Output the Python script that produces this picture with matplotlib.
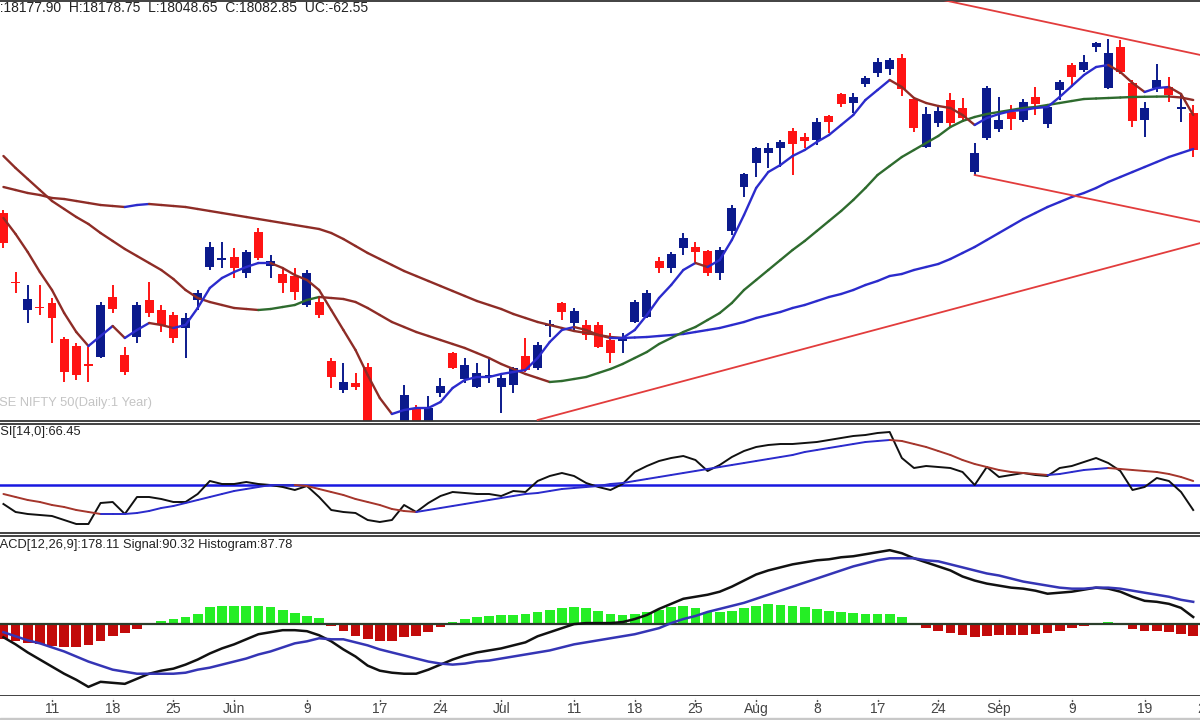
import numpy as np
import matplotlib.pyplot as plt
from matplotlib.collections import LineCollection
from matplotlib.patches import Rectangle

plt.rcParams['font.family'] = ['Liberation Sans', 'DejaVu Sans']

# trading-day number of every bar, 0 = 11 May 2022 (bars run 5 May .. 23 Sep)
days = np.arange(-4, 95)

opens = [16470, 15780, 15500, 15530, 15570, 15210, 15140, 14960, 15030, 15630,
         15050, 15230, 15600, 15500, 15450, 15320, 15600, 15930, 16000, 16030,
         15870, 16280, 15940, 15860, 15840, 15550, 15580, 14990, 14700, 14770,
         14930, 14220, 14240, 14320, 14520, 14360, 14670, 15070, 14810, 14730,
         14830, 14730, 14750, 15040, 14920, 15340, 15570, 15370, 15350, 15350,
         15200, 15190, 15380, 15430, 15990, 15920, 16120, 16130, 16090, 15870,
         16290, 16730, 16970, 17070, 17120, 17290, 17230, 17200, 17440, 17660,
         17570, 17760, 17870, 17910, 18020, 17610, 17130, 17370, 17600, 17520,
         16880, 17220, 17310, 17480, 17400, 17630, 17360, 17700, 17950, 17900,
         18130, 17720, 18130, 17770, 17400, 17720, 17730, 17510, 17470]
highs = [16500, 15880, 15750, 15750, 15620, 15230, 15170, 15130, 15580, 15750,
         15130, 15580, 15780, 15550, 15480, 15470, 15700, 16180, 16180, 16120,
         16100, 16320, 16050, 15920, 15920, 15900, 15620, 15020, 14970, 14870,
         14970, 14350, 14320, 14750, 14550, 14640, 14820, 15080, 15020, 14970,
         15020, 14870, 14930, 15220, 15180, 15400, 15580, 15520, 15400, 15380,
         15270, 15270, 15600, 15700, 16030, 16080, 16270, 16180, 16100, 16130,
         16550, 16870, 17130, 17170, 17200, 17320, 17270, 17420, 17450, 17670,
         17670, 17840, 18020, 18020, 18060, 17630, 17530, 17530, 17670, 17620,
         17170, 17740, 17630, 17550, 17610, 17730, 17550, 17800, 17970, 18050,
         18180, 18210, 18200, 17800, 17580, 17960, 17830, 17650, 17550]
lows = [16120, 15670, 15370, 15450, 15170, 14780, 14800, 14780, 15020, 15470,
        14850, 15170, 15430, 15280, 15170, 15020, 15500, 15900, 15920, 15820,
        15820, 16000, 15820, 15670, 15600, 15530, 15420, 14720, 14670, 14700,
        14230, 14150, 14180, 14300, 14320, 14320, 14630, 14910, 14770, 14720,
        14770, 14470, 14670, 14880, 14900, 15230, 15400, 15300, 15200, 15120,
        14970, 15070, 15370, 15420, 15870, 15870, 16050, 15980, 15840, 15800,
        16250, 16630, 16830, 16920, 16930, 16850, 17120, 17150, 17270, 17530,
        17470, 17730, 17830, 17850, 17640, 17280, 17120, 17330, 17330, 17380,
        16850, 17200, 17280, 17300, 17380, 17450, 17320, 17600, 17750, 17880,
        18080, 17710, 17860, 17330, 17230, 17680, 17580, 17380, 17030]
closes = [16170, 15770, 15610, 15520, 15420, 14880, 14850, 14940, 15550, 15510,
          14880, 15550, 15470, 15350, 15220, 15420, 15670, 16130, 16020, 15920,
          16080, 16020, 15990, 15770, 15680, 15870, 15450, 14830, 14780, 14730,
          14280, 14240, 14270, 14650, 14360, 14520, 14740, 14920, 14950, 14870,
          14850, 14820, 14920, 14900, 15150, 15360, 15480, 15490, 15250, 15130,
          15070, 15230, 15580, 15670, 15920, 16060, 16220, 16080, 15870, 16100,
          16520, 16860, 17120, 17120, 17180, 17160, 17190, 17380, 17380, 17560,
          17630, 17820, 17980, 18000, 17710, 17320, 17460, 17490, 17370, 17420,
          17070, 17720, 17400, 17410, 17580, 17560, 17530, 17780, 17830, 17980,
          18170, 18070, 17880, 17390, 17520, 17800, 17650, 17530, 17100]

ma5 = [16420, 16260, 16080, 15880, 15700, 15470, 15280, 15140, 15240, 15340,
       15220, 15300, 15370, 15350, 15320, 15350, 15520, 15720, 15820, 15880,
       15930, 15970, 15970, 15920, 15850, 15800, 15700, 15500, 15300, 15100,
       14850, 14620, 14460, 14500, 14520, 14520, 14580, 14720, 14800, 14830,
       14830, 14860, 14880, 14900, 15020, 15180, 15300, 15330, 15300, 15250,
       15220, 15220, 15300, 15450, 15620, 15750, 15900, 15970, 15930, 16000,
       16200, 16450, 16720, 16880, 16950, 17040, 17100, 17180, 17250, 17350,
       17450, 17600, 17700, 17800, 17730, 17620, 17570, 17540, 17520, 17450,
       17350, 17420, 17460, 17490, 17500, 17520, 17530, 17630, 17740, 17850,
       17930, 17950, 17880, 17770, 17680, 17720, 17730, 17660, 17450]
ma20 = [17040, 16920, 16810, 16700, 16590, 16510, 16430, 16360, 16270, 16190,
        16110, 16040, 15970, 15900, 15810, 15700, 15620, 15580, 15550, 15520,
        15510, 15500, 15510, 15530, 15550, 15600, 15630, 15620, 15610, 15580,
        15520, 15450, 15380, 15330, 15280, 15240, 15200, 15160, 15120, 15070,
        15020, 14960, 14910, 14860, 14820, 14780, 14790, 14810, 14830, 14870,
        14910, 14960, 15020, 15080, 15160, 15220, 15280, 15330, 15400, 15470,
        15570, 15700, 15800, 15900, 16000, 16100, 16190, 16290, 16390, 16490,
        16600, 16720, 16850, 16940, 17030, 17100, 17170, 17240, 17330, 17390,
        17430, 17460, 17480, 17500, 17520, 17530, 17550, 17570, 17590, 17610,
        17615, 17620, 17625, 17630, 17632, 17634, 17635, 17625, 17600]
ma50 = [16730, 16700, 16670, 16650, 16620, 16610, 16590, 16570, 16550, 16540,
        16530, 16550, 16560, 16550, 16540, 16530, 16510, 16490, 16470, 16450,
        16430, 16410, 16390, 16370, 16350, 16330, 16310, 16270, 16210, 16140,
        16070, 16010, 15950, 15890, 15840, 15790, 15740, 15690, 15640, 15590,
        15550, 15510, 15460, 15420, 15380, 15350, 15320, 15290, 15270, 15250,
        15230, 15220, 15225, 15230, 15240, 15250, 15260, 15280, 15300, 15320,
        15350, 15380, 15420, 15450, 15480, 15520, 15550, 15590, 15630, 15660,
        15700, 15750, 15790, 15840, 15860, 15900, 15930, 15960, 16010, 16070,
        16130, 16200, 16270, 16340, 16410, 16470, 16530, 16580, 16630, 16670,
        16720, 16780, 16830, 16880, 16930, 16980, 17030, 17070, 17110]

# hand-drawn trend lines: (bar numbers, prices)
trend_top = ([73.4, 94.6], [18600, 18050])
trend_low = ([76.0, 94.6], [16850, 16380])
trend_rise = ([40.0, 94.6], [14400, 16170])

rsi = [40.5, 36.5, 35.5, 35, 34.5, 32.5, 30.5, 30.5, 41, 41.5,
       35.5, 44, 44, 43, 41.5, 41.5, 45.5, 52, 50.5, 50.5,
       51.5, 50.5, 50, 49, 47.5, 49.5, 44, 37.5, 36.5, 36,
       32.5, 31.5, 32.5, 40, 36.5, 41, 44.5, 46.5, 46, 45.5,
       45.5, 44.5, 47, 46.5, 52, 54.5, 56, 54.5, 51, 49,
       47.5, 50.5, 56.5, 59.5, 62, 63.5, 64.5, 62.5, 57, 60,
       64, 67, 69, 70, 70.5, 70.5, 71, 71.5, 72.5, 73.5,
       74.5, 75, 76, 76.5, 63.5, 58.5, 59.5, 59, 58.5, 56.5,
       50, 59, 54, 55, 56, 55, 54.5, 58.5, 59.5, 61.5,
       63.5, 61, 57, 47.5, 49, 53.5, 52, 46.5, 37.5]
rsi_avg = [45.5, 44, 42.5, 41.5, 40, 39, 37.5, 36.5, 35.5, 35.5,
           35.5, 36, 37, 38.5, 39.5, 41, 42.5, 44, 45.5, 47,
           48, 49, 50, 50, 50, 49.5, 48, 46.5, 45, 43,
           41.5, 40, 38, 37, 36.5, 37.5, 38.5, 39.5, 40.5, 41.5,
           42.5, 43.5, 44.5, 45.5, 46, 47, 48, 48.5, 49, 49.5,
           50.5, 51, 52, 53, 54, 55, 56, 57, 58, 59,
           60, 61, 62, 63, 64, 65, 66.5, 67.5, 68.5, 69.5,
           70.5, 71.5, 72, 72.5, 72, 70.5, 69, 67, 65, 62.5,
           60.5, 59, 57.5, 56.5, 56, 55.5, 55, 55.5, 56.5, 57.5,
           58, 58.5, 58, 57.5, 57, 56.5, 55.5, 54, 52]

macd = [-65, -100, -140, -175, -210, -245, -275, -310, -285, -290,
        -295, -270, -245, -230, -220, -200, -175, -145, -120, -100,
        -75, -50, -40, -30, -30, -35, -55, -85, -125, -160,
        -205, -230, -240, -245, -245, -225, -200, -175, -155, -140,
        -130, -120, -105, -90, -60, -40, -20, 0, 5, 5,
        5, 10, 25, 45, 75, 100, 125, 135, 145, 160,
        185, 215, 245, 265, 280, 295, 305, 315, 320, 330,
        335, 345, 355, 365, 350, 325, 305, 285, 265, 235,
        215, 200, 190, 180, 175, 165, 150, 155, 160, 170,
        180, 175, 160, 135, 115, 110, 100, 80, 35]
signal = [-40, -60, -80, -95, -115, -135, -160, -185, -205, -225,
          -235, -245, -245, -245, -245, -240, -225, -215, -200, -185,
          -170, -150, -135, -115, -95, -85, -70, -75, -75, -90,
          -105, -125, -140, -155, -170, -185, -195, -200, -195, -185,
          -180, -170, -160, -150, -140, -130, -115, -100, -90, -80,
          -70, -60, -50, -35, -20, 5, 25, 40, 60, 75,
          90, 105, 125, 145, 165, 185, 205, 225, 245, 265,
          285, 300, 315, 325, 325, 325, 315, 310, 295, 280,
          265, 250, 240, 225, 210, 200, 190, 180, 175, 175,
          180, 180, 175, 165, 155, 145, 135, 120, 110]
histogram = [-75, -85, -95, -100, -110, -115, -115, -105, -85, -60,
             -45, -25, -5, 15, 25, 35, 50, 85, 90, 90,
             90, 90, 85, 70, 55, 40, 30, -10, -35, -60,
             -75, -85, -85, -65, -60, -40, -15, 10, 25, 35,
             40, 45, 45, 50, 60, 70, 80, 85, 80, 65,
             50, 45, 50, 60, 70, 85, 90, 80, 60, 60,
             65, 80, 90, 100, 95, 90, 85, 75, 65, 60,
             55, 50, 50, 50, 35, -5, -20, -35, -45, -55,
             -65, -60, -55, -55, -55, -50, -45, -35, -20, -10,
             -3, 10, -3, -25, -35, -35, -40, -50, -60]

tick_days = [0, 5, 10, 15, 21, 27, 32, 37, 43, 48, 53, 58, 63, 68, 73, 78, 84, 90, 95]
tick_labels = ['11', '18', '25', 'Jun', '9', '17', '24', 'Jul', '11', '18',
               '25', 'Aug', '8', '17', '24', 'Sep', '9', '19', '26']

CANDLE_UP = '#0b1a8c'
CANDLE_DN = '#ff1414'
MAROON = '#8e2c26'
BLUE = '#2b2bcc'
GREEN = '#2e6b2e'
TREND = '#e23c3c'
FRAME = '#333333'

W, H = 1200, 720
XLIM = (-4.283, 94.56)


def two_tone(ax, x, y, up, down, lw):
    # each segment coloured by its direction
    x = np.asarray(x, float)
    y = np.asarray(y, float)
    pts = np.column_stack([x, y]).reshape(-1, 1, 2)
    segs = np.concatenate([pts[:-1], pts[1:]], axis=1)
    cols = [up if y[i + 1] >= y[i] else down for i in range(len(y) - 1)]
    ax.add_collection(LineCollection(segs, colors=cols, linewidths=lw,
                                     capstyle='round', joinstyle='round', zorder=3))


fig = plt.figure(figsize=(12, 7.2), dpi=100)


def panel(top, bottom):
    a = fig.add_axes([0, 1 - bottom / H, 1, (bottom - top) / H])
    a.set_xlim(*XLIM)
    a.set_xticks([])
    a.set_yticks([])
    for s in ('left', 'right'):
        a.spines[s].set_visible(False)
    for s in ('top', 'bottom'):
        a.spines[s].set_color(FRAME)
        a.spines[s].set_linewidth(1.3)
    return a


ax = panel(1, 421)
ax_rsi = panel(424, 533)
ax_macd = panel(536, 696)
ax_date = panel(696, 718)
for s in ('top', 'bottom'):
    ax_date.spines[s].set_visible(False)

# --- price panel
o, h, l, c = (np.array(v, float) for v in (opens, highs, lows, closes))
col = np.where(c >= o, CANDLE_UP, CANDLE_DN)
ax.vlines(days, l, h, colors=col, lw=1.4, zorder=2)
ax.bar(days, np.maximum(np.abs(c - o), 15), bottom=np.minimum(o, c),
       width=0.74, color=col, lw=0, zorder=2)

two_tone(ax, days, ma50, BLUE, MAROON, 1.7)
two_tone(ax, days, ma20, GREEN, MAROON, 1.7)
two_tone(ax, days, ma5, BLUE, MAROON, 1.7)

for xs, ys in (trend_top, trend_low, trend_rise):
    ax.plot(xs, ys, color=TREND, lw=1.3, zorder=3)

ax.set_ylim(14390, 18590)
ax.text(-9.6 / W, (421 - 403) / 420, 'NSE NIFTY 50(Daily:1 Year)', transform=ax.transAxes,
        fontsize=9.3, color='#c4c4c4', va='center', ha='left')

fig.text(-11 / W, 1 - 8.5 / H, 'O:18177.90  H:18178.75  L:18048.65  C:18082.85  UC:-62.55',
         fontsize=10, color='#222222', va='center', ha='left')

# --- RSI panel
ax_rsi.axhline(50, color='#1818e0', lw=1.8, zorder=1)
ax_rsi.plot(days, rsi, color='#111111', lw=1.4, zorder=3)
two_tone(ax_rsi, days, rsi_avg, BLUE, '#a5362c', 1.4)
ax_rsi.set_ylim(26, 80.5)
ax_rsi.text(-9.2 / W, (533 - 432) / 109, 'RSI[14,0]:66.45', transform=ax_rsi.transAxes,
            fontsize=9.3, color='#222222', va='center', ha='left')

# --- MACD panel
hist = np.array(histogram, float)
ax_macd.bar(days, hist, width=0.8, color=np.where(hist >= 0, '#25ee25', '#c20a0a'),
            lw=0, zorder=1)
ax_macd.axhline(0, color='#2b3d2b', lw=1.6, zorder=2)
ax_macd.plot(days, macd, color='#111111', lw=1.8, zorder=3)
ax_macd.plot(days, signal, color='#3535b5', lw=1.8, zorder=3)
ax_macd.set_ylim(-355, 435)
ax_macd.text(-10.7 / W, (696 - 545) / 160, 'MACD[12,26,9]:178.11 Signal:90.32 Histogram:87.78',
             transform=ax_macd.transAxes, fontsize=9.3, color='#222222', va='center', ha='left')

# --- date strip
ax_date.set_ylim(0, 1)
ax_date.vlines(tick_days, 0.6, 0.92, color='#555555', lw=1.0, linestyles=(0, (1.5, 1)))
for d, lab in zip(tick_days, tick_labels):
    ax_date.text(d, 0.42, lab, ha='center', va='center', fontsize=10, color='#444444',
                 clip_on=False)

fig.patches.append(Rectangle((0, 0), 1, 2 / H, transform=fig.transFigure,
                             color='#c8c8c8', zorder=0))

fig.savefig('out.png', dpi=100)
